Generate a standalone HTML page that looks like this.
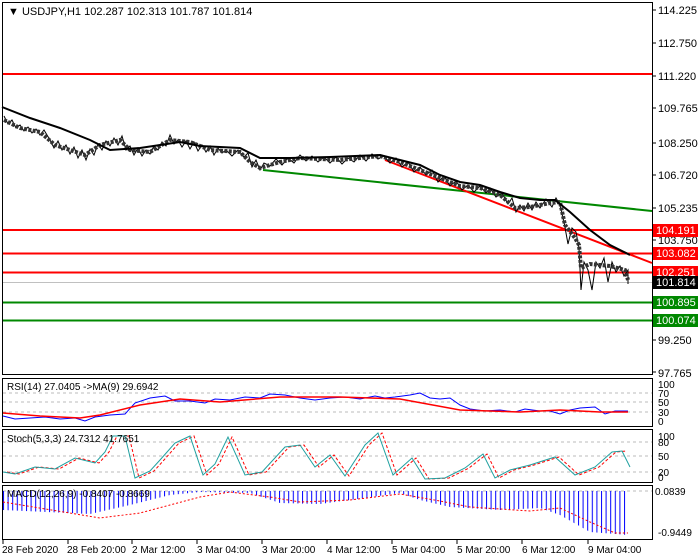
<!DOCTYPE html>
<html><head><meta charset="utf-8"><style>
html,body{margin:0;padding:0;background:#fff;}
svg{display:block;font-family:"Liberation Sans",sans-serif;}
</style></head><body>
<svg width="700" height="560" xmlns="http://www.w3.org/2000/svg">
<defs>
<pattern id="hp" x="3" y="0" width="4.6" height="10" patternUnits="userSpaceOnUse">
<rect x="0" y="0" width="1" height="10" fill="#00f"/>
</pattern>
</defs>
<rect width="700" height="560" fill="#fff"/>
<g fill="none" stroke="#000" stroke-width="1">
<rect x="2.5" y="2.5" width="650" height="372"/>
<rect x="2.5" y="378.5" width="650" height="48"/>
<rect x="2.5" y="429.5" width="650" height="53"/>
<rect x="2.5" y="485.5" width="650" height="54"/>
</g>
<g font-size="11" fill="#000">
<text x="658" y="14">114.225</text>
<text x="658" y="47">112.750</text>
<text x="658" y="80">111.220</text>
<text x="658" y="112">109.765</text>
<text x="658" y="147">108.250</text>
<text x="658" y="179">106.720</text>
<text x="658" y="212">105.235</text>
<text x="658" y="244">103.750</text>
<text x="658" y="344">99.250</text>
<text x="658" y="377">97.765</text>
</g>
<g stroke="#000"><line x1="652" y1="10" x2="656" y2="10"/><line x1="652" y1="43" x2="656" y2="43"/><line x1="652" y1="76" x2="656" y2="76"/><line x1="652" y1="108" x2="656" y2="108"/><line x1="652" y1="143" x2="656" y2="143"/><line x1="652" y1="175" x2="656" y2="175"/><line x1="652" y1="208" x2="656" y2="208"/><line x1="652" y1="240" x2="656" y2="240"/><line x1="652" y1="340" x2="656" y2="340"/><line x1="652" y1="372" x2="656" y2="372"/></g>
<g stroke-width="2">
<line x1="3" y1="74" x2="652" y2="74" stroke="#f00"/>
<line x1="3" y1="230" x2="652" y2="230" stroke="#f00"/>
<line x1="3" y1="253.5" x2="652" y2="253.5" stroke="#f00"/>
<line x1="3" y1="272.5" x2="652" y2="272.5" stroke="#f00"/>
<line x1="3" y1="302.5" x2="652" y2="302.5" stroke="#080"/>
<line x1="3" y1="320.5" x2="652" y2="320.5" stroke="#080"/>
</g>
<line x1="3" y1="282.5" x2="652" y2="282.5" stroke="#c0c0c0"/>
<line x1="263" y1="170" x2="652" y2="211" stroke="#080" stroke-width="2"/>
<line x1="385" y1="160" x2="652" y2="263" stroke="#f00" stroke-width="2"/>
<g font-size="11">
<rect x="653" y="224" width="45" height="13" fill="#f00"/><text x="656" y="234" fill="#fff">104.191</text>
<rect x="653" y="247" width="45" height="13" fill="#f00"/><text x="656" y="257" fill="#fff">103.082</text>
<rect x="653" y="266" width="45" height="13" fill="#f00"/><text x="656" y="276" fill="#fff">102.251</text>
<rect x="653" y="276" width="45" height="13" fill="#000"/><text x="656" y="286" fill="#fff">101.814</text>
<rect x="653" y="296" width="45" height="13" fill="#080"/><text x="656" y="306" fill="#fff">100.895</text>
<rect x="653" y="314" width="45" height="13" fill="#080"/><text x="656" y="324" fill="#fff">100.074</text>
</g>
<!-- candles approximation -->
<polyline fill="none" stroke="#000" stroke-width="1" points="4,116 8,124 12,120 16,128 20,125 24,131 28,127 32,133 36,129 40,135 44,130 50,140 54,148 58,141 62,150 66,145 70,154 74,147 78,158 82,150 86,160 90,149 94,155 98,144 102,150 106,141 110,146 114,138 118,145 122,136 126,150 130,146 134,155 138,148 142,156 146,150 150,154 154,146 158,150 162,142 166,146 170,135 174,144 178,140 182,147 186,141 190,149 194,142 198,151 202,145 206,152 210,146 214,155 218,148 222,153 226,150 232,156 238,150 244,157 248,153 252,167 256,160 260,170 264,163 270,166 276,159 282,165 288,158 294,163 300,155 306,161 312,156 318,162 324,157 330,163 336,157 342,164 348,158 354,162 360,155 366,161 372,154 378,159 384,156 390,163 396,158 402,167 408,162 414,172 420,167 426,175 432,170 438,182 444,176 450,186 456,181 462,190 468,185 474,192 480,186 486,193 490,188 496,197 502,193 508,204 512,198 516,212 520,205 524,211 528,203 532,210 536,202 540,208 546,199 552,207 556,198 560,205 564,222 568,244 572,228 576,232 579,248 581,290 584,262 588,270 592,290 596,262 600,268 604,258 608,282 612,262 616,272 620,266 624,276 628,270 628,284"/>
<polyline fill="none" stroke="#333" stroke-width="4" stroke-dasharray="3,1.4" points="4,120 20,128 40,132 55,145 70,150 85,155 100,145 120,140 130,150 150,152 170,140 190,142 210,150 240,152 250,162 260,168 280,162 300,158 340,160 360,158 380,156 400,162 420,170 440,178 460,186 480,188 500,195 515,208 530,207 550,203 560,202 565,225 575,238 579,245 581,268 590,264 610,266 625,270 628,280"/>
<polyline fill="none" stroke="#000" stroke-width="2" points="2,107 30,118 60,128 90,140 110,150 140,148 180,142 200,146 240,148 260,158 290,158 330,157 380,155 400,160 420,165 440,175 460,182 480,185 500,192 520,198 540,200 555,200 570,212 590,230 610,245 630,255"/>
<text x="8" y="15" font-size="11" fill="#000">▼ USDJPY,H1  102.287 102.313 101.787 101.814</text>
<!-- RSI -->
<g stroke="#bbb" stroke-dasharray="3,3"><line x1="3" y1="393" x2="652" y2="393"/><line x1="3" y1="402" x2="652" y2="402"/><line x1="3" y1="412" x2="652" y2="412"/></g>
<polyline fill="none" stroke="#00f" stroke-width="1" points="3,416 15,419 30,418 45,417 60,419 75,418 85,421 95,417 110,415 125,414 135,403 150,398 165,396 175,401 190,401 205,403 215,399 230,400 245,397 260,398 270,394 285,395 300,398 315,400 330,398 345,397 360,399 375,396 385,398 395,397 410,395 420,393 430,398 440,399 450,398 460,405 470,409 485,411 500,410 515,412 525,409 540,411 550,411 560,414 570,410 580,408 595,407 605,414 615,411 628,411"/>
<polyline fill="none" stroke="#f00" stroke-width="1.5" points="3,413 40,416 80,418 100,415 140,405 180,399 220,402 280,397 340,397 400,399 460,410 520,412 560,410 600,412 628,412"/>
<text x="7" y="390" font-size="10">RSI(14) 27.0405  -&gt;MA(9) 29.6942</text>
<g font-size="10"><text x="658" y="388">100</text><text x="658" y="397">70</text><text x="658" y="406">50</text><text x="658" y="416">30</text><text x="658" y="425">0</text></g>
<!-- Stoch -->
<g stroke="#bbb" stroke-dasharray="3,3"><line x1="3" y1="442" x2="652" y2="442"/><line x1="3" y1="456" x2="652" y2="456"/><line x1="3" y1="472" x2="652" y2="472"/></g>
<polyline fill="none" stroke="#f00" stroke-dasharray="3,2" points="7,472 19,474 39,467 59,469 79,458 99,463 109,452 117,436 129,436 139,478 154,471 164,460 179,443 194,436 207,475 219,464 232,437 249,475 266,472 289,447 304,445 319,467 334,455 349,476 369,445 382,433 397,475 416,458 429,479 449,478 469,468 487,454 499,478 514,470 534,465 559,457 579,475 599,467 616,452 626,451"/>
<polyline fill="none" stroke="#20a0a0" points="3,472 15,474 35,467 55,469 75,458 95,463 105,452 113,436 125,436 135,478 150,471 160,460 175,443 190,436 203,475 215,464 228,437 245,475 262,472 285,447 300,445 315,467 330,455 345,476 365,445 378,433 393,475 412,458 425,479 445,478 465,468 483,454 495,478 510,470 530,465 555,457 575,475 595,467 612,452 622,451 630,467"/>
<text x="7" y="442" font-size="10">Stoch(5,3,3) 24.7312 41.7651</text>
<g font-size="10"><text x="658" y="440">100</text><text x="658" y="446">80</text><text x="658" y="460">50</text><text x="658" y="476">20</text><text x="658" y="481">0</text></g>
<!-- MACD -->
<line x1="3" y1="491" x2="652" y2="491" stroke="#bbb" stroke-dasharray="3,3"/>
<polygon fill="url(#hp)" points="3,491 3,510 90,514 130,505 170,495 200,492 250,493 280,503 320,504 350,500 400,493 420,500 450,507 500,510 540,508 560,515 590,532 628,535 628,491"/>
<polyline fill="none" stroke="#f00" stroke-dasharray="2,2" points="3,502 100,518 140,513 170,505 200,497 230,492 270,497 300,502 350,500 400,494 440,501 470,507 530,511 560,508 590,522 615,533 628,533"/>
<text x="7" y="497" font-size="10">MACD(12,26,9) -0.8407 -0.8669</text>
<g font-size="10"><text x="655" y="495">0.0839</text><text x="658" y="536">-0.9449</text></g>
<g stroke="#000"><line x1="3" y1="540" x2="3" y2="544"/><line x1="68" y1="540" x2="68" y2="544"/><line x1="132" y1="540" x2="132" y2="544"/><line x1="197" y1="540" x2="197" y2="544"/><line x1="262" y1="540" x2="262" y2="544"/><line x1="327" y1="540" x2="327" y2="544"/><line x1="392" y1="540" x2="392" y2="544"/><line x1="457" y1="540" x2="457" y2="544"/><line x1="522" y1="540" x2="522" y2="544"/><line x1="588" y1="540" x2="588" y2="544"/></g>
<g font-size="10">
<text x="2" y="553">28 Feb 2020</text><text x="67" y="553">28 Feb 20:00</text><text x="132" y="553">2 Mar 12:00</text><text x="197" y="553">3 Mar 04:00</text><text x="262" y="553">3 Mar 20:00</text><text x="327" y="553">4 Mar 12:00</text><text x="392" y="553">5 Mar 04:00</text><text x="457" y="553">5 Mar 20:00</text><text x="522" y="553">6 Mar 12:00</text><text x="588" y="553">9 Mar 04:00</text>
</g>
</svg>
</body></html>
